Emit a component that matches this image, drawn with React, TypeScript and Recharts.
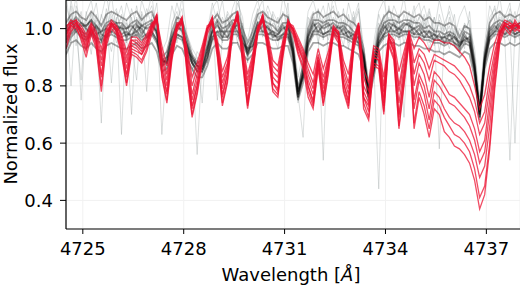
import { LineChart, Line, XAxis, YAxis, CartesianGrid, ReferenceLine } from "recharts"

const wavelength = [
  4724.5, 4724.65, 4724.8, 4724.95, 4725.1, 4725.25, 4725.4, 4725.55, 4725.7, 4725.85,
  4726, 4726.15, 4726.3, 4726.45, 4726.6, 4726.75, 4726.9, 4727.05, 4727.2, 4727.35,
  4727.5, 4727.65, 4727.8, 4727.95, 4728.1, 4728.25, 4728.4, 4728.55, 4728.7, 4728.85,
  4729, 4729.15, 4729.3, 4729.45, 4729.6, 4729.75, 4729.9, 4730.05, 4730.2, 4730.35,
  4730.5, 4730.65, 4730.8, 4730.95, 4731.1, 4731.25, 4731.4, 4731.55, 4731.7, 4731.85,
  4732, 4732.15, 4732.3, 4732.45, 4732.6, 4732.75, 4732.9, 4733.05, 4733.2, 4733.35,
  4733.5, 4733.65, 4733.8, 4733.95, 4734.1, 4734.25, 4734.4, 4734.55, 4734.7, 4734.85,
  4735, 4735.15, 4735.3, 4735.45, 4735.6, 4735.75, 4735.9, 4736.05, 4736.2, 4736.35,
  4736.5, 4736.65, 4736.8, 4736.95, 4737.1, 4737.25, 4737.4, 4737.55, 4737.7, 4737.85,
  4738,
]

const xTicks = [4725, 4728, 4731, 4734, 4737]
const yTicks = [0.4, 0.6, 0.8, 1.0]

// noisy single spectra (light grey)
const gray1 = [
  1.04, 0.8, 1.08, 1.02, 0.96, 1.06, 1.0, 0.67, 1.03, 1.12,
  0.98, 1.05, 0.95, 1.07, 1.01, 0.94, 1.04, 1.08, 1.0, 0.9,
  0.86, 1.02, 1.06, 0.97, 0.95, 0.88, 0.9, 0.84, 0.95, 1.05,
  1.03, 0.95, 1.06, 1.02, 0.97, 1.01, 0.89, 1.0, 1.07, 0.97,
  1.04, 0.99, 0.93, 1.06, 1.01, 0.95, 0.8, 0.88, 1.02, 1.06,
  0.97, 0.54, 1.04, 1.08, 0.98, 1.03, 0.95, 1.01, 1.06, 0.92,
  0.79, 0.9, 1.05, 0.99, 1.07, 1.02, 0.96, 1.05, 1.0, 1.08,
  0.97, 1.03, 0.95, 1.04, 0.92, 1.01, 0.97, 1.05, 0.91, 1.02,
  0.99, 0.9, 0.73, 0.92, 1.04, 1.07, 0.98, 1.05, 1.0, 1.06,
  0.97,
]
const gray2 = [
  0.9, 1.05, 0.99, 0.82, 1.06, 0.97, 1.03, 0.95, 1.07, 0.98,
  1.04, 0.63, 1.02, 0.97, 1.08, 0.99, 0.93, 1.03, 0.97, 0.86,
  0.91, 0.96, 1.03, 1.07, 0.9, 0.86, 0.88, 0.87, 0.93, 1.02,
  0.96, 1.04, 0.99, 0.94, 1.13, 0.98, 0.93, 0.97, 1.03, 1.06,
  0.96, 1.02, 1.0, 0.95, 1.05, 0.9, 0.79, 0.86, 1.0, 0.97,
  1.06, 1.01, 0.96, 1.04, 1.0, 0.94, 1.05, 0.97, 1.02, 0.88,
  0.8, 0.88, 0.44, 1.03, 0.98, 1.05, 0.99, 1.02, 0.95, 1.03,
  1.01, 0.96, 1.06, 0.97, 1.02, 0.95, 1.04, 0.96, 0.97, 0.99,
  1.03, 0.87, 0.72, 0.87, 1.01, 0.97, 1.06, 1.0, 0.95, 1.04,
  1.02,
]
const gray3 = [
  1.12, 0.98, 1.03, 0.95, 1.01, 0.91, 1.05, 0.97, 1.0, 1.06,
  0.95, 1.0, 0.97, 1.04, 0.93, 1.06, 1.0, 0.97, 1.05, 0.63,
  0.9, 0.99, 0.95, 1.04, 0.96, 0.89, 0.85, 0.9, 0.88, 1.0,
  1.06, 0.98, 1.01, 1.05, 0.95, 1.02, 0.9, 0.93, 1.0, 1.04,
  0.99, 1.05, 0.97, 1.02, 0.96, 0.93, 0.76, 0.9, 0.98, 1.04,
  0.95, 1.03, 0.99, 0.96, 1.06, 1.0, 0.97, 1.04, 0.93, 0.87,
  0.75, 0.89, 1.0, 0.97, 1.04, 0.95, 1.01, 0.97, 1.06, 0.98,
  1.04, 0.99, 0.93, 1.0, 0.58, 0.98, 0.93, 1.0, 0.96, 0.94,
  0.98, 0.88, 0.71, 0.91, 0.99, 1.03, 0.96, 1.01, 1.05, 0.97,
  1.03,
]
const gray4 = [
  0.97, 1.08, 0.94, 1.04, 0.99, 1.05, 0.96, 1.02, 0.93, 1.04,
  1.07, 0.97, 1.03, 0.94, 0.82, 1.05, 0.95, 1.01, 0.99, 0.9,
  0.87, 0.95, 1.04, 0.99, 0.94, 0.91, 0.56, 0.89, 0.94, 0.99,
  0.94, 1.01, 1.05, 0.97, 1.02, 0.93, 0.95, 0.97, 1.05, 1.0,
  1.06, 0.97, 1.01, 0.99, 1.04, 0.94, 0.78, 0.85, 0.96, 1.0,
  1.03, 0.97, 1.05, 0.99, 0.95, 1.02, 0.98, 1.06, 0.96, 0.89,
  0.78, 0.86, 0.97, 1.05, 0.96, 1.0, 1.03, 0.95, 1.01, 0.96,
  0.99, 1.05, 0.98, 0.96, 1.03, 0.97, 1.01, 0.94, 1.0, 0.97,
  0.95, 0.89, 0.72, 0.86, 0.97, 1.02, 1.01, 0.96, 0.54, 1.0,
  0.96,
]
const gray5 = [
  1.02, 0.95, 1.06, 0.75, 1.03, 0.98, 0.94, 1.05, 0.99, 0.92,
  1.01, 1.04, 0.96, 1.0, 0.97, 1.02, 0.78, 1.05, 1.02, 0.88,
  0.92, 0.97, 1.0, 1.03, 0.96, 0.87, 0.89, 0.86, 0.91, 1.04,
  0.75, 0.97, 1.03, 1.0, 1.04, 0.99, 0.91, 0.96, 0.99, 1.05,
  1.0, 0.96, 1.04, 0.98, 1.03, 0.91, 0.77, 0.62, 0.99, 1.02,
  0.98, 1.04, 1.01, 0.97, 1.02, 0.99, 1.03, 0.95, 1.0, 0.9,
  0.77, 0.91, 0.98, 1.02, 1.0, 0.97, 1.04, 1.0, 0.97, 1.04,
  0.96, 1.02, 0.99, 1.04, 0.98, 1.02, 0.95, 0.99, 0.93, 1.01,
  1.0, 0.86, 0.7, 0.9, 1.0, 0.99, 1.04, 1.02, 1.0, 0.6,
  0.99,
]
const gray6 = [
  1.08, 1.02, 1.11, 0.97, 1.05, 1.1, 0.99, 1.04, 1.12, 1.01,
  1.06, 0.99, 1.09, 1.03, 0.97, 1.1, 1.04, 1.12, 0.98, 0.92,
  0.96, 1.08, 1.01, 1.11, 0.98, 0.93, 0.9, 0.74, 0.99, 1.09,
  1.02, 1.1, 0.98, 1.07, 1.12, 1.0, 0.96, 1.05, 1.1, 1.02,
  1.08, 1.03, 0.99, 1.11, 1.05, 0.97, 0.83, 0.92, 1.06, 1.1,
  1.03, 1.08, 1.0, 1.12, 1.04, 0.98, 1.09, 1.02, 1.07, 0.94,
  0.82, 0.95, 1.06, 1.1, 1.01, 1.08, 1.03, 1.11, 0.99, 1.06,
  1.09, 1.0, 1.07, 0.99, 1.1, 1.02, 1.06, 0.97, 1.04, 1.08,
  1.01, 0.93, 0.76, 0.95, 1.08, 1.03, 1.11, 0.99, 1.07, 1.02,
  1.09,
]
const gray7 = [
  0.94, 1.1, 1.0, 1.06, 0.93, 1.02, 1.09, 0.97, 1.05, 0.81,
  1.03, 1.08, 0.98, 0.7, 1.04, 0.99, 1.07, 1.01, 1.09, 0.89,
  0.84, 1.01, 1.09, 1.02, 0.91, 0.85, 0.92, 0.89, 0.97, 1.07,
  1.1, 0.99, 1.04, 0.96, 1.09, 1.04, 0.88, 1.02, 1.06, 1.1,
  0.97, 1.06, 1.02, 0.96, 1.09, 0.88, 0.74, 0.9, 1.04, 0.99,
  1.07, 0.96, 1.09, 1.01, 0.97, 1.07, 0.93, 1.03, 1.09, 0.86,
  0.79, 0.93, 1.02, 0.96, 1.08, 1.0, 1.05, 0.69, 1.03, 1.0,
  1.04, 1.08, 1.01, 0.94, 1.05, 0.99, 1.08, 1.02, 0.98, 0.93,
  1.06, 0.88, 0.74, 0.89, 1.02, 1.08, 0.97, 1.04, 1.09, 0.95,
  1.05,
]

// comparison spectra (black band)
const black1 = [
  0.99, 1.01, 1.03, 0.99, 0.98, 1.02, 1.0, 0.96, 1.01, 1.02,
  0.99, 1.01, 0.97, 1.0, 1.02, 0.98, 1.01, 1.02, 0.98, 0.87,
  0.9, 0.97, 1.01, 0.99, 0.94, 0.88, 0.85, 0.87, 0.93, 0.99,
  1.02, 0.97, 1.0, 1.02, 0.99, 0.97, 0.91, 0.96, 1.02, 0.99,
  1.01, 0.97, 0.98, 1.01, 0.98, 0.91, 0.76, 0.85, 0.97, 1.02,
  0.99, 1.01, 1.02, 0.99, 1.01, 0.98, 0.99, 0.96, 0.97, 0.89,
  0.76, 0.87, 0.97, 1.01, 0.99, 1.02, 0.98, 1.01, 1.02, 0.98,
  1.0, 0.97, 0.99, 0.96, 0.98, 0.95, 0.98, 0.95, 0.93, 0.98,
  0.95, 0.85, 0.69, 0.9, 0.99, 1.01, 0.99, 1.01, 0.99, 1.0,
  1.01,
]
const black2 = [
  0.95, 0.98, 1.0, 1.02, 1.0, 0.98, 1.01, 0.98, 0.97, 1.01,
  1.02, 0.98, 0.99, 0.97, 1.01, 1.0, 0.97, 0.99, 0.96, 0.89,
  0.88, 0.94, 0.98, 0.97, 0.92, 0.9, 0.87, 0.85, 0.9, 0.97,
  0.99, 0.99, 0.97, 1.01, 1.01, 0.95, 0.93, 0.94, 0.99, 1.01,
  0.98, 0.99, 0.96, 0.98, 1.0, 0.93, 0.78, 0.83, 0.95, 0.99,
  1.01, 0.98, 0.99, 1.01, 0.98, 1.0, 0.97, 0.98, 0.95, 0.91,
  0.78, 0.85, 0.95, 0.98, 1.01, 0.99, 1.0, 0.99, 0.99, 1.0,
  0.98, 0.99, 0.97, 0.98, 0.96, 0.97, 0.96, 0.97, 0.95, 0.96,
  0.97, 0.87, 0.71, 0.88, 0.97, 0.99, 1.01, 0.98, 1.01, 0.98,
  0.99,
]
const black3 = [
  1.0, 1.03, 0.99, 1.01, 1.01, 1.03, 0.98, 0.99, 1.0, 0.99,
  1.01, 1.0, 1.0, 1.01, 0.99, 1.01, 1.0, 1.01, 0.99, 0.89,
  0.88, 0.96, 1.0, 1.0, 0.94, 0.89, 0.87, 0.86, 0.92, 0.99,
  1.01, 0.99, 0.99, 0.99, 1.02, 0.97, 0.92, 0.96, 1.01, 1.02,
  1.0, 0.99, 0.98, 1.0, 1.01, 0.92, 0.77, 0.84, 0.97, 1.01,
  1.02, 1.0, 1.01, 1.02, 1.0, 1.01, 0.99, 0.98, 0.97, 0.9,
  0.77, 0.86, 0.96, 1.0, 1.02, 1.01, 1.0, 1.02, 1.01, 1.0,
  1.01, 0.99, 0.99, 0.98, 0.97, 0.97, 0.98, 0.97, 0.94, 0.97,
  0.96, 0.86, 0.7, 0.89, 0.98, 1.0, 1.02, 1.0, 1.01, 1.0,
  1.02,
]
const black4 = [
  0.96, 0.99, 1.02, 0.98, 0.97, 0.99, 0.97, 0.96, 0.98, 0.99,
  0.98, 0.97, 0.98, 0.98, 0.99, 0.97, 0.98, 0.99, 0.96, 0.88,
  0.89, 0.94, 0.98, 0.97, 0.93, 0.88, 0.86, 0.86, 0.9, 0.97,
  0.99, 0.97, 0.97, 0.99, 0.99, 0.95, 0.92, 0.94, 0.99, 0.99,
  0.98, 0.98, 0.97, 0.98, 0.98, 0.92, 0.78, 0.84, 0.95, 0.99,
  0.99, 0.98, 0.99, 0.99, 0.98, 0.98, 0.97, 0.96, 0.95, 0.9,
  0.78, 0.86, 0.95, 0.98, 0.99, 0.99, 0.98, 0.99, 0.99, 0.98,
  0.98, 0.97, 0.97, 0.96, 0.96, 0.95, 0.96, 0.95, 0.94, 0.96,
  0.95, 0.86, 0.71, 0.89, 0.97, 0.99, 0.99, 0.98, 0.99, 0.98,
  0.99,
]
const black5 = [
  0.98, 1.02, 1.04, 1.02, 1.01, 1.03, 1.01, 0.99, 1.02, 1.03,
  1.02, 1.02, 1.0, 1.02, 1.03, 1.01, 1.02, 1.03, 0.99, 0.89,
  0.9, 0.97, 1.02, 1.01, 0.95, 0.9, 0.87, 0.87, 0.92, 1.0,
  1.03, 1.0, 1.01, 1.03, 1.03, 0.98, 0.93, 0.97, 1.02, 1.03,
  1.02, 1.01, 0.99, 1.02, 1.02, 0.93, 0.77, 0.85, 0.98, 1.03,
  1.03, 1.02, 1.03, 1.03, 1.02, 1.02, 1.01, 0.99, 0.98, 0.91,
  0.77, 0.87, 0.98, 1.02, 1.03, 1.03, 1.02, 1.03, 1.03, 1.02,
  1.02, 1.0, 1.01, 0.99, 0.99, 0.98, 0.99, 0.98, 0.95, 0.99,
  0.98, 0.87, 0.7, 0.9, 1.0, 1.02, 1.03, 1.02, 1.03, 1.01,
  1.02,
]
const black6 = [
  0.93, 0.97, 0.99, 0.97, 0.96, 0.98, 0.96, 0.95, 0.97, 0.98,
  0.97, 0.96, 0.96, 0.97, 0.98, 0.96, 0.97, 0.98, 0.95, 0.87,
  0.88, 0.93, 0.97, 0.96, 0.91, 0.88, 0.85, 0.85, 0.89, 0.96,
  0.98, 0.96, 0.96, 0.98, 0.98, 0.94, 0.91, 0.93, 0.98, 0.98,
  0.97, 0.96, 0.96, 0.97, 0.97, 0.9, 0.76, 0.83, 0.94, 0.98,
  0.98, 0.97, 0.98, 0.98, 0.97, 0.97, 0.96, 0.95, 0.94, 0.88,
  0.76, 0.85, 0.94, 0.97, 0.98, 0.98, 0.97, 0.98, 0.98, 0.97,
  0.97, 0.96, 0.96, 0.95, 0.95, 0.94, 0.95, 0.94, 0.92, 0.95,
  0.94, 0.85, 0.69, 0.88, 0.96, 0.98, 0.98, 0.97, 0.98, 0.97,
  0.98,
]
const black7 = [
  1.02, 1.05, 1.06, 1.04, 1.03, 1.06, 1.04, 1.01, 1.05, 1.06,
  1.05, 1.04, 1.03, 1.05, 1.06, 1.03, 1.05, 1.06, 1.01, 0.9,
  0.92, 0.99, 1.04, 1.03, 0.97, 0.91, 0.88, 0.89, 0.94, 1.03,
  1.05, 1.02, 1.03, 1.05, 1.06, 1.0, 0.95, 0.99, 1.05, 1.06,
  1.04, 1.03, 1.02, 1.05, 1.04, 0.95, 0.79, 0.87, 1.0, 1.05,
  1.06, 1.04, 1.05, 1.06, 1.04, 1.05, 1.03, 1.02, 1.0, 0.93,
  0.79, 0.89, 1.0, 1.04, 1.06, 1.05, 1.04, 1.06, 1.05, 1.04,
  1.05, 1.03, 1.04, 1.02, 1.02, 1.01, 1.02, 1.01, 0.97, 1.01,
  1.0, 0.89, 0.72, 0.92, 1.02, 1.05, 1.06, 1.04, 1.05, 1.04,
  1.05,
]
const black8 = [
  0.91, 0.95, 0.96, 0.94, 0.93, 0.95, 0.93, 0.92, 0.94, 0.95,
  0.94, 0.93, 0.93, 0.94, 0.95, 0.93, 0.94, 0.95, 0.92, 0.85,
  0.86, 0.91, 0.94, 0.93, 0.89, 0.86, 0.83, 0.83, 0.87, 0.93,
  0.95, 0.93, 0.93, 0.95, 0.95, 0.91, 0.89, 0.91, 0.95, 0.95,
  0.94, 0.93, 0.93, 0.94, 0.94, 0.88, 0.75, 0.81, 0.92, 0.95,
  0.95, 0.94, 0.95, 0.95, 0.94, 0.94, 0.93, 0.92, 0.91, 0.86,
  0.75, 0.83, 0.92, 0.94, 0.95, 0.95, 0.94, 0.95, 0.95, 0.94,
  0.94, 0.93, 0.93, 0.92, 0.92, 0.91, 0.92, 0.91, 0.9, 0.92,
  0.91, 0.83, 0.68, 0.86, 0.93, 0.95, 0.95, 0.94, 0.95, 0.94,
  0.95,
]

// target spectra (red)
const red1 = [
  0.93, 0.99, 1.01, 0.96, 0.9, 0.98, 0.93, 0.78, 0.94, 1.0,
  0.98, 0.91, 0.8, 0.91, 0.9, 0.88, 0.92, 0.98, 1.03, 0.83,
  0.74, 0.89, 0.99, 1.02, 0.84, 0.69, 0.77, 0.88, 0.98, 1.02,
  0.9, 0.73, 0.81, 0.98, 1.04, 0.88, 0.72, 0.84, 0.98, 1.03,
  0.92, 0.78, 0.76, 0.9, 1.01, 0.98, 0.91, 0.86, 0.76, 0.72,
  0.86, 0.73, 0.84, 0.98, 0.95, 0.78, 0.72, 0.92, 1.0, 0.72,
  0.68, 0.87, 0.86, 0.7, 0.94, 0.89, 0.65, 0.8, 0.95, 0.65,
  0.76, 0.7, 0.62, 0.72, 0.7, 0.64, 0.62, 0.59, 0.58, 0.56,
  0.53, 0.47, 0.37, 0.42, 0.58, 0.79, 0.95, 1.0, 0.98, 1.03,
  1.0,
]
const red2 = [
  0.96, 1.01, 1.0, 0.97, 0.92, 1.0, 0.94, 0.8, 0.95, 1.02,
  0.99, 0.92, 0.81, 0.92, 0.91, 0.89, 0.93, 1.0, 1.05, 0.84,
  0.75, 0.9, 1.0, 1.04, 0.85, 0.7, 0.78, 0.89, 1.0, 1.04,
  0.91, 0.74, 0.82, 0.99, 1.06, 0.89, 0.73, 0.85, 0.99, 1.05,
  0.93, 0.79, 0.77, 0.91, 1.03, 0.99, 0.92, 0.87, 0.78, 0.73,
  0.87, 0.74, 0.85, 0.99, 0.96, 0.79, 0.73, 0.93, 1.01, 0.74,
  0.69, 0.88, 0.87, 0.71, 0.95, 0.9, 0.66, 0.81, 0.96, 0.67,
  0.78, 0.73, 0.65, 0.75, 0.73, 0.69, 0.66, 0.63, 0.62, 0.6,
  0.57, 0.51, 0.41, 0.45, 0.6, 0.81, 0.96, 1.01, 1.0, 1.02,
  0.99,
]
const red3 = [
  0.97, 1.02, 1.03, 0.98, 0.94, 1.0, 0.96, 0.83, 0.97, 1.02,
  1.0, 0.94, 0.83, 0.94, 0.93, 0.91, 0.95, 1.01, 1.05, 0.86,
  0.77, 0.91, 1.01, 1.04, 0.87, 0.72, 0.8, 0.9, 1.0, 1.04,
  0.93, 0.76, 0.84, 1.0, 1.06, 0.91, 0.74, 0.86, 1.0, 1.05,
  0.95, 0.81, 0.78, 0.93, 1.03, 1.0, 0.94, 0.89, 0.8, 0.74,
  0.89, 0.76, 0.87, 1.0, 0.98, 0.81, 0.74, 0.95, 1.02, 0.76,
  0.71, 0.9, 0.89, 0.73, 0.97, 0.92, 0.69, 0.83, 0.97, 0.72,
  0.82, 0.77, 0.68, 0.78, 0.76, 0.72, 0.69, 0.67, 0.66, 0.64,
  0.61, 0.56, 0.48, 0.52, 0.66, 0.84, 0.97, 1.02, 0.99, 1.01,
  1.01,
]
const red4 = [
  0.95, 1.0, 1.02, 0.98, 0.93, 0.99, 0.95, 0.84, 0.96, 1.01,
  0.99, 0.93, 0.84, 0.93, 0.92, 0.91, 0.94, 0.99, 1.04, 0.86,
  0.78, 0.91, 1.0, 1.03, 0.87, 0.73, 0.8, 0.9, 0.99, 1.03,
  0.92, 0.77, 0.84, 0.99, 1.05, 0.9, 0.75, 0.86, 0.99, 1.04,
  0.94, 0.81, 0.79, 0.92, 1.02, 0.99, 0.93, 0.89, 0.8, 0.75,
  0.88, 0.77, 0.87, 0.99, 0.97, 0.81, 0.75, 0.94, 1.01, 0.76,
  0.73, 0.9, 0.89, 0.74, 0.96, 0.92, 0.7, 0.84, 0.97, 0.75,
  0.84, 0.8, 0.72, 0.82, 0.8, 0.77, 0.74, 0.73, 0.71, 0.69,
  0.66, 0.61, 0.53, 0.57, 0.71, 0.86, 0.98, 1.01, 1.0, 1.02,
  1.0,
]
const red5 = [
  0.98, 1.01, 1.02, 0.99, 0.95, 1.01, 0.96, 0.87, 0.98, 1.02,
  1.0, 0.95, 0.86, 0.95, 0.94, 0.92, 0.95, 1.0, 1.04, 0.88,
  0.8, 0.92, 1.01, 1.03, 0.89, 0.75, 0.82, 0.91, 1.0, 1.03,
  0.93, 0.79, 0.86, 1.0, 1.05, 0.91, 0.78, 0.88, 1.0, 1.04,
  0.95, 0.83, 0.81, 0.93, 1.02, 1.0, 0.94, 0.9, 0.82, 0.77,
  0.89, 0.79, 0.88, 1.0, 0.98, 0.83, 0.77, 0.95, 1.01, 0.78,
  0.74, 0.91, 0.9, 0.76, 0.97, 0.93, 0.74, 0.86, 0.98, 0.8,
  0.88, 0.84, 0.76, 0.85, 0.83, 0.8, 0.77, 0.76, 0.74, 0.72,
  0.7, 0.65, 0.57, 0.61, 0.75, 0.88, 0.98, 1.02, 1.01, 0.99,
  1.01,
]
const red6 = [
  0.99, 1.02, 1.01, 1.0, 0.96, 1.0, 0.97, 0.89, 0.99, 1.01,
  1.0, 0.96, 0.88, 0.96, 0.95, 0.93, 0.96, 1.01, 1.03, 0.9,
  0.82, 0.93, 1.01, 1.02, 0.9, 0.77, 0.84, 0.92, 1.0, 1.02,
  0.94, 0.81, 0.87, 1.0, 1.04, 0.92, 0.8, 0.89, 1.0, 1.03,
  0.96, 0.85, 0.83, 0.94, 1.02, 1.0, 0.95, 0.91, 0.84, 0.79,
  0.9, 0.81, 0.89, 1.0, 0.98, 0.85, 0.79, 0.96, 1.01, 0.8,
  0.76, 0.92, 0.91, 0.78, 0.97, 0.94, 0.78, 0.88, 0.98, 0.84,
  0.91, 0.88, 0.82, 0.89, 0.88, 0.87, 0.85, 0.84, 0.82, 0.79,
  0.76, 0.71, 0.63, 0.67, 0.79, 0.9, 0.99, 1.01, 1.02, 1.0,
  0.99,
]
const red7 = [
  1.0, 1.03, 1.02, 1.0, 0.97, 1.01, 0.98, 0.91, 0.99, 1.02,
  1.01, 0.97, 0.9, 0.96, 0.96, 0.94, 0.97, 1.01, 1.03, 0.92,
  0.84, 0.94, 1.01, 1.02, 0.92, 0.8, 0.86, 0.93, 1.0, 1.02,
  0.95, 0.83, 0.88, 1.0, 1.04, 0.94, 0.82, 0.9, 1.0, 1.03,
  0.97, 0.87, 0.85, 0.95, 1.02, 1.0, 0.96, 0.92, 0.86, 0.81,
  0.91, 0.83, 0.9, 1.0, 0.99, 0.87, 0.81, 0.96, 1.01, 0.83,
  0.78, 0.93, 0.92, 0.8, 0.98, 0.95, 0.8, 0.9, 0.99, 0.88,
  0.93, 0.91, 0.86, 0.91, 0.9, 0.89, 0.88, 0.87, 0.85, 0.83,
  0.8, 0.75, 0.67, 0.71, 0.83, 0.92, 0.99, 1.02, 1.01, 1.01,
  1.0,
]
const red8 = [
  1.01, 1.02, 1.03, 1.01, 0.98, 1.02, 0.99, 0.93, 1.0, 1.03,
  1.01, 0.98, 0.92, 0.97, 0.97, 0.95, 0.98, 1.02, 1.03, 0.94,
  0.87, 0.95, 1.02, 1.02, 0.93, 0.83, 0.88, 0.94, 1.01, 1.02,
  0.96, 0.85, 0.9, 1.01, 1.03, 0.95, 0.84, 0.91, 1.01, 1.03,
  0.98, 0.89, 0.87, 0.96, 1.02, 1.01, 0.97, 0.93, 0.88, 0.84,
  0.93, 0.86, 0.92, 1.01, 0.99, 0.89, 0.84, 0.97, 1.02, 0.86,
  0.81, 0.94, 0.93, 0.83, 0.98, 0.96, 0.85, 0.92, 0.99, 0.93,
  0.97, 0.95, 0.92, 0.96, 0.96, 0.95, 0.95, 0.94, 0.92, 0.9,
  0.87, 0.8, 0.72, 0.77, 0.87, 0.95, 1.0, 1.03, 1.02, 1.01,
  1.02,
]

const grayLines = [gray1, gray2, gray3, gray4, gray5, gray6, gray7]
const blackLines = [black1, black2, black3, black4, black5, black6, black7, black8]
const redLines = [red1, red2, red3, red4, red5, red6, red7, red8]

const data = wavelength.map((w, i) => {
  const row: Record<string, number> = { w }
  grayLines.forEach((s, k) => (row[`g${k}`] = s[i]))
  blackLines.forEach((s, k) => (row[`b${k}`] = s[i]))
  redLines.forEach((s, k) => (row[`r${k}`] = s[i]))
  return row
})

const FONT = "'DejaVu Sans', sans-serif"

function XLabel() {
  return (
    <text x={291} y={281} textAnchor="middle" fontSize={18} fontFamily={FONT} fill="#000">
      Wavelength [<tspan fontStyle="italic">Å</tspan>]
    </text>
  )
}

function YLabel() {
  return (
    <text x={17} y={114} transform="rotate(-90 17 114)" textAnchor="middle" fontSize={18} fontFamily={FONT} fill="#000">
      Normalized flux
    </text>
  )
}

export default function App() {
  return (
    <div style={{ position: "absolute", left: 0, top: 0, background: "#fff" }}>
      <LineChart width={520} height={286} data={data} margin={{ top: 0, right: 0, bottom: 0, left: 0 }} style={{ fontFamily: FONT }}>
        <CartesianGrid stroke="#f1f1f1" strokeWidth={1} />
        <XAxis
          dataKey="w"
          type="number"
          domain={[4724.5, 4738]}
          ticks={xTicks}
          allowDataOverflow
          height={57}
          tickSize={5}
          tickMargin={8}
          axisLine={{ stroke: "#000", strokeWidth: 1.2 }}
          tickLine={{ stroke: "#000", strokeWidth: 1 }}
          tick={{ fontSize: 18, fill: "#000", fontFamily: FONT }}
          label={<XLabel />}
        />
        <YAxis
          type="number"
          domain={[0.3, 1.1]}
          ticks={yTicks}
          allowDataOverflow
          width={66}
          tickSize={6}
          tickMargin={7}
          tickFormatter={(v) => v.toFixed(1)}
          axisLine={{ stroke: "#000", strokeWidth: 1.2 }}
          tickLine={{ stroke: "#000", strokeWidth: 1 }}
          tick={{ fontSize: 18, fill: "#000", fontFamily: FONT }}
          label={<YLabel />}
        />
        <ReferenceLine y={1.1} stroke="#000" strokeWidth={1.5} />
        {grayLines.map((_, k) => (
          <Line key={`g${k}`} dataKey={`g${k}`} type="linear" stroke="#8a9696" strokeOpacity={0.3} strokeWidth={1} dot={false} activeDot={false} isAnimationActive={false} />
        ))}
        {blackLines.map((_, k) => (
          <Line key={`b${k}`} dataKey={`b${k}`} type="linear" stroke="#000" strokeOpacity={0.35} strokeWidth={1.8} dot={false} activeDot={false} isAnimationActive={false} />
        ))}
        {redLines.map((_, k) => (
          <Line key={`r${k}`} dataKey={`r${k}`} type="linear" stroke="#ec1030" strokeOpacity={0.75} strokeWidth={1.3} dot={false} activeDot={false} isAnimationActive={false} />
        ))}
      </LineChart>
    </div>
  )
}
